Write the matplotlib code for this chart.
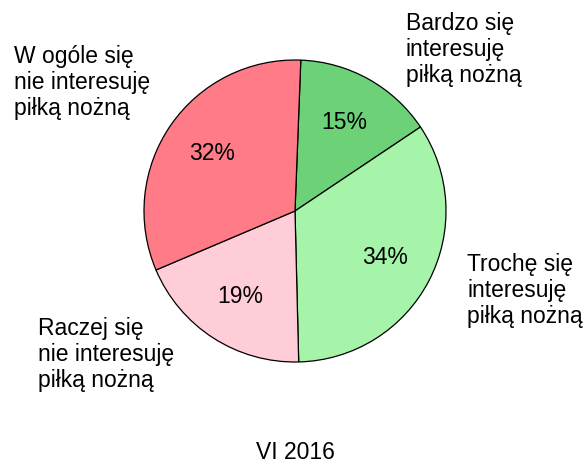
import matplotlib.pyplot as plt

plt.rcParams['font.family'] = ['Liberation Sans', 'DejaVu Sans']

labels = ['Bardzo się\ninteresuję\npiłką nożną',
          'Trochę się\ninteresuję\npiłką nożną',
          'Raczej się\nnie interesuję\npiłką nożną',
          'W ogóle się\nnie interesuję\npiłką nożną']
shares = [15, 34, 19, 32]
colors = ['#6dd277', '#a6f4a9', '#ffcdd8', '#ff7b87']
title = 'VI 2016'

# label anchors (left/top) in pie data units, radius = 1
label_pos = [(0.735, 1.32), (1.14, -0.275), (-1.70, -0.70), (-1.86, 1.10)]

W, H = 587, 465
cx, cy, r = 295, 211, 151
fig = plt.figure(figsize=(W / 100, H / 100), dpi=100)
ax = fig.add_axes([(cx - r) / W, (H - cy - r) / H, 2 * r / W, 2 * r / H])

wedges, texts, autotexts = ax.pie(
    shares, labels=labels, colors=colors, startangle=87.8, counterclock=False,
    autopct='%d%%', pctdistance=0.67, radius=1,
    wedgeprops=dict(edgecolor='black', linewidth=0.9),
    textprops=dict(fontsize=16.5, color='black'))

for t, (x, y) in zip(texts, label_pos):
    t.set_position((x, y))
    t.set_ha('left')
    t.set_va('top')
    t.set_linespacing(1.18)

ax.set_xlim(-1, 1)
ax.set_ylim(-1, 1)
ax.set_aspect('equal')
ax.axis('off')

fig.text(cx / W, 1 - 452 / H, title, ha='center', va='center', fontsize=16.5)

plt.savefig('out.png', dpi=100)
